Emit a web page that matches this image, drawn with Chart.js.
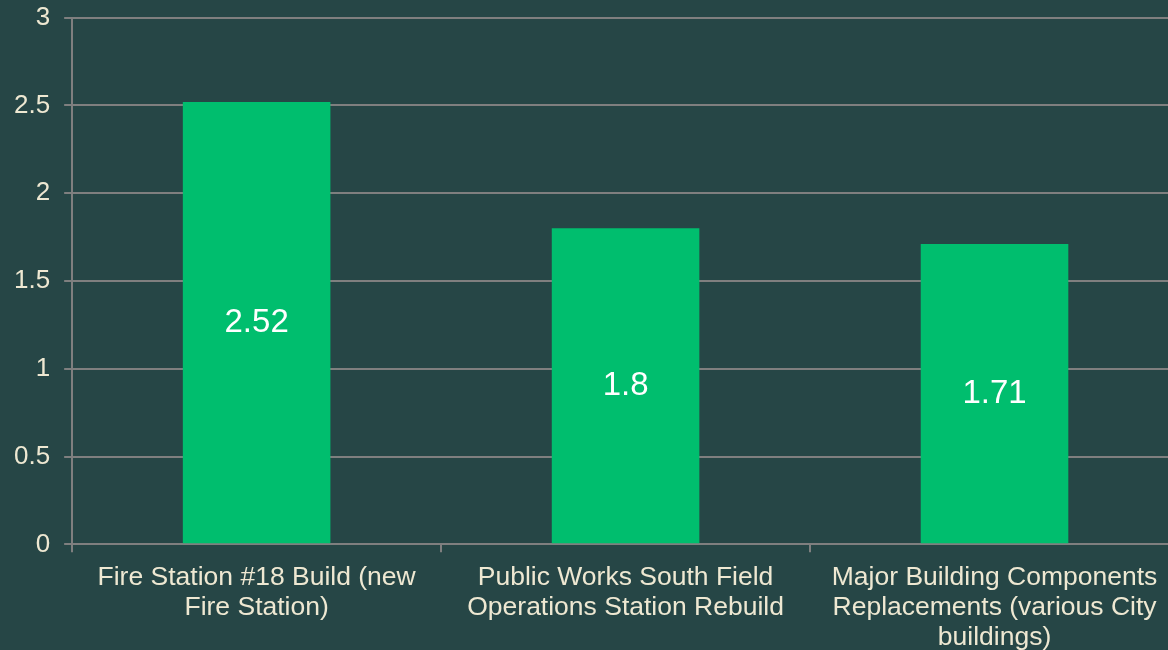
<!DOCTYPE html>
<html><head><meta charset="utf-8">
<script src="https://cdn.jsdelivr.net/npm/chart.js@4"></script>
<style>
html,body{margin:0;padding:0;background:#264646;overflow:hidden;}
#wrap{width:1182px;height:675px;position:relative;margin-top:-12px;}
</style></head>
<body>
<div id="wrap"><canvas id="c" width="1182" height="675"></canvas></div>
<script>
const categories = [
  ["Fire Station #18 Build (new", "Fire Station)"],
  ["Public Works South Field", "Operations Station Rebuild"],
  ["Major Building Components", "Replacements (various City", "buildings)"]
];
const values = [2.52, 1.8, 1.71];
const yTicks = [0, 0.5, 1, 1.5, 2, 2.5, 3];

const textColor = '#EEE8D2';
const gridColor = '#7F7F7F';

const valueLabels = {
  id: 'valueLabels',
  afterDatasetsDraw(chart) {
    const ctx = chart.ctx;
    const meta = chart.getDatasetMeta(0);
    ctx.save();
    ctx.fillStyle = '#FFFFFF';
    ctx.font = '33px "Liberation Sans", Arial, sans-serif';
    ctx.textAlign = 'center';
    ctx.textBaseline = 'middle';
    meta.data.forEach((bar, i) => {
      const y = (bar.y + bar.base) / 2;
      ctx.fillText(String(values[i]), bar.x, y);
    });
    ctx.restore();
  }
};

new Chart(document.getElementById('c'), {
  type: 'bar',
  data: {
    labels: categories,
    datasets: [{
      data: values,
      backgroundColor: '#00BE6E',
      borderWidth: 0,
      barPercentage: 0.4,
      categoryPercentage: 1.0
    }]
  },
  options: {
    responsive: false,
    animation: false,
    layout: { padding: { top: 4, left: 0, right: 3, bottom: 0 } },
    plugins: { legend: { display: false }, tooltip: { enabled: false } },
    scales: {
      x: {
        offset: true,
        grid: {
          offset: true,
          display: true,
          drawOnChartArea: false,
          drawTicks: true,
          tickLength: 8,
          color: gridColor,
          lineWidth: 2
        },
        border: { display: true, color: gridColor, width: 2 },
        ticks: {
          color: textColor,
          font: { family: '"Liberation Sans", Arial, sans-serif', size: 26.5, lineHeight: 1.14 },
          maxRotation: 0,
          autoSkip: false,
          padding: 10
        }
      },
      y: {
        min: 0,
        max: 3,
        afterBuildTicks(axis) { axis.ticks = yTicks.map(v => ({ value: v })); },
        grid: {
          color: gridColor,
          lineWidth: 2,
          tickLength: 8,
          drawTicks: true
        },
        border: { display: true, color: gridColor, width: 2 },
        ticks: {
          color: textColor,
          font: { family: '"Liberation Sans", Arial, sans-serif', size: 26 },
          padding: 14,
          callback: (v) => String(v)
        }
      }
    }
  },
  plugins: [valueLabels]
});
</script>
</body></html>
